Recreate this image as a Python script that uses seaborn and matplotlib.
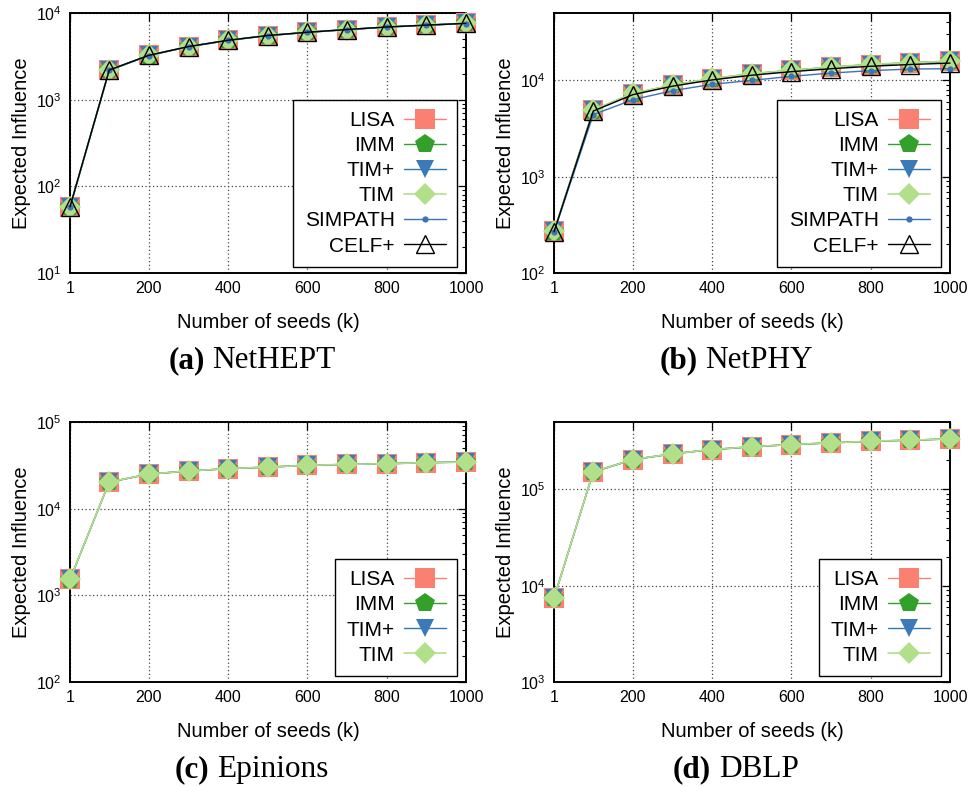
import numpy as np
import pandas as pd
import matplotlib
matplotlib.use("Agg")
import matplotlib.pyplot as plt
import seaborn as sns
from matplotlib.ticker import LogLocator, FixedLocator, NullFormatter, LogFormatterSciNotation

# ---------------- data ----------------
seeds = [1, 100, 200, 300, 400, 500, 600, 700, 800, 900, 1000]
x_ticks = [1, 200, 400, 600, 800, 1000]

# (a) NetHEPT
hept_lisa    = [58, 2200, 3250, 4100, 4850, 5500, 6000, 6450, 6900, 7250, 7600]
hept_imm     = [57, 2180, 3230, 4080, 4830, 5480, 5980, 6430, 6880, 7230, 7580]
hept_timplus = [58, 2200, 3250, 4100, 4850, 5500, 6000, 6450, 6900, 7250, 7600]
hept_tim     = [58, 2190, 3240, 4090, 4840, 5490, 5990, 6440, 6890, 7240, 7590]
hept_simpath = [58, 2180, 3230, 4080, 4820, 5470, 5970, 6420, 6870, 7220, 7560]
hept_celf    = [58, 2200, 3250, 4100, 4850, 5500, 6000, 6450, 6900, 7250, 7600]

# (b) NetPHY
phy_lisa    = [270, 4900, 7300, 8900, 10400, 11700, 12700, 13700, 14600, 15200, 15800]
phy_imm     = [268, 4850, 7250, 8850, 10350, 11650, 12650, 13650, 14550, 15150, 15750]
phy_timplus = [270, 4900, 7300, 8900, 10400, 11700, 12700, 13700, 14600, 15200, 15800]
phy_tim     = [270, 4920, 7350, 8950, 10450, 11750, 12750, 13750, 14650, 15250, 15850]
phy_simpath = [265, 4400, 6300, 7800, 9100, 10000, 11000, 11900, 12600, 13100, 13200]
phy_celf    = [268, 4800, 7100, 8700, 10100, 11300, 12300, 13200, 14000, 14600, 15100]

# (c) Epinions
epi_lisa    = [1530, 20300, 25100, 27200, 29000, 30200, 31600, 32500, 33000, 34000, 34500]
epi_imm     = [1520, 20200, 25000, 27100, 28900, 30100, 31500, 32400, 32900, 33900, 34400]
epi_timplus = [1530, 20300, 25100, 27200, 29000, 30200, 31600, 32500, 33000, 34000, 34500]
epi_tim     = [1530, 20300, 25100, 27200, 29000, 30200, 31600, 32500, 33000, 34000, 34500]

# (d) DBLP
dblp_lisa    = [7450, 152000, 204000, 234000, 259000, 277000, 292000, 304000, 316000, 324000, 334000]
dblp_imm     = [7400, 151000, 203000, 233000, 258000, 276000, 291000, 303000, 315000, 323000, 333000]
dblp_timplus = [7450, 152000, 204000, 234000, 259000, 277000, 292000, 304000, 316000, 324000, 334000]
dblp_tim     = [7450, 152000, 204000, 234000, 259000, 277000, 292000, 304000, 316000, 324000, 334000]

methods6 = ["LISA", "IMM", "TIM+", "TIM", "SIMPATH", "CELF+"]
methods4 = ["LISA", "IMM", "TIM+", "TIM"]

panels = [
    dict(name="NetHEPT", tag="(a)", methods=methods6,
         series=[hept_lisa, hept_imm, hept_timplus, hept_tim, hept_simpath, hept_celf],
         ylim=(10, 1e4)),
    dict(name="NetPHY", tag="(b)", methods=methods6,
         series=[phy_lisa, phy_imm, phy_timplus, phy_tim, phy_simpath, phy_celf],
         ylim=(100, 5e4)),
    dict(name="Epinions", tag="(c)", methods=methods4,
         series=[epi_lisa, epi_imm, epi_timplus, epi_tim],
         ylim=(100, 1e5)),
    dict(name="DBLP", tag="(d)", methods=methods4,
         series=[dblp_lisa, dblp_imm, dblp_timplus, dblp_tim],
         ylim=(1e3, 5e5)),
]

# ---------------- style ----------------
styles = {
    "LISA":    dict(color="#fa8072", marker="s", markersize=14.5, markeredgewidth=0,
                    markerfacecolor="#fa8072", markeredgecolor="#fa8072", linewidth=1.0),
    "IMM":     dict(color="#33a02c", marker="p", markersize=14.5, markeredgewidth=0,
                    markerfacecolor="#33a02c", markeredgecolor="#33a02c", linewidth=1.0),
    "TIM+":    dict(color="#2f78b4", marker="v", markersize=13, markeredgewidth=0,
                    markerfacecolor="#3a7ab8", markeredgecolor="#3a7ab8", linewidth=1.0),
    "TIM":     dict(color="#b2df8a", marker="D", markersize=11.5, markeredgewidth=0,
                    markerfacecolor="#b2df8a", markeredgecolor="#b2df8a", linewidth=1.2),
    "SIMPATH": dict(color="#3d72b8", marker="o", markersize=4.5, markeredgewidth=0,
                    markerfacecolor="#3d72b8", markeredgecolor="#3d72b8", linewidth=1.0),
    "CELF+":   dict(color="black", marker="^", markersize=13, markeredgewidth=1.0,
                    markerfacecolor="none", markeredgecolor="black", linewidth=1.0),
}

sns.set_theme(style="white")
plt.rcParams["font.family"] = ["Liberation Sans", "DejaVu Sans"]
plt.rcParams["mathtext.fontset"] = "custom"
plt.rcParams["mathtext.rm"] = "Liberation Sans"
plt.rcParams["mathtext.it"] = "Liberation Sans:italic"
plt.rcParams["mathtext.bf"] = "Liberation Sans:bold"

W, H = 969, 787
fig = plt.figure(figsize=(W / 100, H / 100), dpi=100)

ax_px = [(70, 13), (554, 13), (70, 422), (554, 422)]  # left, top in pixels
AW, AH = 396, 260

for p, (lpx, tpx) in zip(panels, ax_px):
    ax = fig.add_axes([lpx / W, 1 - (tpx + AH) / H, AW / W, AH / H])
    rows = []
    for m, vals in zip(p["methods"], p["series"]):
        for k, v in zip(seeds, vals):
            rows.append((m, k, v))
    df = pd.DataFrame(rows, columns=["method", "k", "influence"])
    for zi, m in enumerate(p["methods"]):
        sns.lineplot(data=df[df["method"] == m], x="k", y="influence", ax=ax,
                     label=m, errorbar=None, zorder=3 + zi, legend=False,
                     clip_on=False, **styles[m])
    ax.set_yscale("log")
    ax.set_xlim(1, 1000)
    ax.set_ylim(*p["ylim"])
    ax.xaxis.set_major_locator(FixedLocator(x_ticks))
    ax.yaxis.set_major_locator(LogLocator(base=10, numticks=10))
    ax.yaxis.set_minor_locator(LogLocator(base=10, subs=np.arange(2, 10), numticks=20))
    ax.yaxis.set_minor_formatter(NullFormatter())
    ax.yaxis.set_major_formatter(LogFormatterSciNotation())
    ax.tick_params(which="both", direction="in", top=True, right=True, colors="black",
                   labelcolor="black")
    ax.tick_params(which="major", length=6, width=0.9, labelsize=11.5, pad=6)
    ax.tick_params(which="minor", length=3, width=0.8)
    ax.grid(True, which="major", linestyle=(0, (1, 2)), color="#444444", linewidth=0.9)
    ax.set_axisbelow(True)
    for s in ax.spines.values():
        s.set_color("black")
        s.set_linewidth(1.4)
        s.set_zorder(2.5)
    ax.set_xlabel("Number of seeds (k)", fontsize=14.5, color="black")
    ax.set_ylabel("Expected Influence", fontsize=14.5, color="black")
    ax.xaxis.set_label_coords(0.5, -0.155)
    ax.yaxis.set_label_coords(-0.098, 0.5)

    leg = ax.legend(loc="lower right", bbox_to_anchor=((457 - 70) / AW, 6 / AH),
                    borderaxespad=0, markerfirst=False, fontsize=15, handlelength=2.0,
                    handletextpad=0.43, labelspacing=0.29, borderpad=0.55,
                    fancybox=False, framealpha=1, edgecolor="black")
    leg.get_frame().set_linewidth(1.0)
    leg.set_zorder(20)
    for t in leg.get_texts():
        t.set_color("black")

    # caption
    xc = (lpx + AW / 2 - 16)
    ybase = tpx + 355
    t1 = fig.text(0, 1 - ybase / H, p["tag"], fontsize=22.5, fontweight="bold",
                  family="Liberation Serif", va="baseline", ha="left", color="black")
    t2 = fig.text(0, 1 - ybase / H, p["name"], fontsize=22.5,
                  family="Liberation Serif", va="baseline", ha="left", color="black")
    r = fig.canvas.get_renderer()
    w1 = t1.get_window_extent(r).width
    w2 = t2.get_window_extent(r).width
    gap = 22.5 * 100 / 72 * 0.25
    x0 = xc - (w1 + gap + w2) / 2
    t1.set_x(x0 / W)
    t2.set_x((x0 + w1 + gap) / W)

fig.savefig("out.png", dpi=100)
